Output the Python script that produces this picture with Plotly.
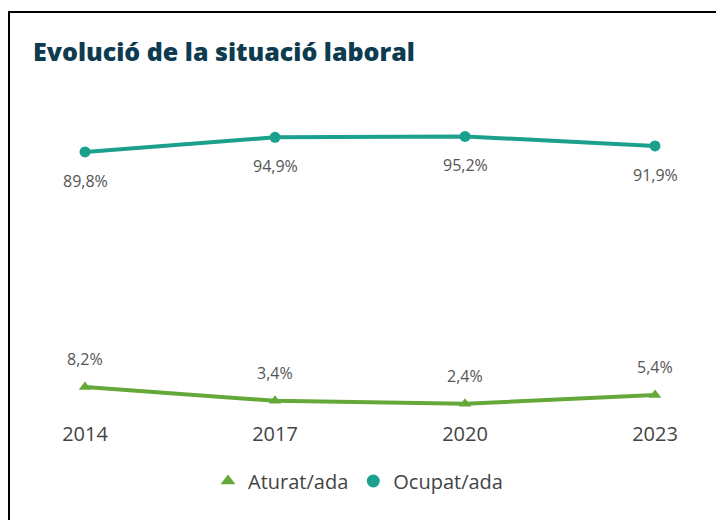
import plotly.graph_objects as go

years = [2014, 2017, 2020, 2023]
year_labels = ["2014", "2017", "2020", "2023"]
ocupat = [89.8, 94.9, 95.2, 91.9]
aturat = [8.2, 3.4, 2.4, 5.4]
ocupat_labels = ["89,8%", "94,9%", "95,2%", "91,9%"]
aturat_labels = ["8,2%", "3,4%", "2,4%", "5,4%"]

TEAL = "#1ca08e"
GREEN = "#64a83a"
FONT = "Open Sans"

fig = go.Figure()
fig.add_trace(go.Scatter(x=years, y=ocupat, mode="lines+markers",
                         line=dict(color=TEAL, width=4),
                         marker=dict(symbol="circle", size=11, color=TEAL),
                         showlegend=False, hoverinfo="skip"))
fig.add_trace(go.Scatter(x=years, y=aturat, mode="lines+markers",
                         line=dict(color=GREEN, width=4),
                         marker=dict(symbol="triangle-up", size=11, color=GREEN),
                         showlegend=False, hoverinfo="skip"))
# legend-only entries
fig.add_trace(go.Scatter(x=[None], y=[None], mode="markers", name="Aturat/ada",
                         marker=dict(symbol="triangle-up", size=13, color=GREEN)))
fig.add_trace(go.Scatter(x=[None], y=[None], mode="markers", name="Ocupat/ada",
                         marker=dict(symbol="circle", size=13, color=TEAL)))

ann = []
for x, y, t in zip(years, ocupat, ocupat_labels):
    ann.append(dict(x=x, y=y, text=t, showarrow=False, yshift=-29,
                    font=dict(family=FONT, size=16, color="#555555")))
for x, y, t in zip(years, aturat, aturat_labels):
    ann.append(dict(x=x, y=y, text=t, showarrow=False, yshift=28,
                    font=dict(family=FONT, size=16, color="#555555")))

fig.update_layout(
    width=716, height=521,
    paper_bgcolor="white", plot_bgcolor="white",
    margin=dict(l=40, r=20, t=100, b=101),
    title=dict(text="Evolució de la situació laboral",
               x=33/716, xanchor="left", xref="container",
               y=1-52/521, yanchor="middle", yref="container",
               font=dict(family=FONT, size=25, color="#0d3b4f", weight=800)),
    xaxis=dict(range=[2013.289, 2023.647], tickvals=years, ticktext=year_labels,
               showgrid=False, zeroline=False, showline=False,
               tickfont=dict(family=FONT, size=20, color="#444444")),
    yaxis=dict(range=[-3.26, 107.85], visible=False, showgrid=False, zeroline=False),
    legend=dict(orientation="h", x=0.5, xanchor="center", xref="container",
                y=1-481/521, yanchor="middle", yref="container",
                font=dict(family=FONT, size=20, color="#444444"),
                itemwidth=30, tracegroupgap=0),
    annotations=ann,
    shapes=[
        dict(type="line", xref="paper", yref="paper",
             x0=(8-40)/656, x1=(716-40)/656, y0=(421-13)/320, y1=(421-13)/320,
             line=dict(color="black", width=2)),
        dict(type="line", xref="paper", yref="paper",
             x0=(9-40)/656, x1=(9-40)/656, y0=(421-13)/320, y1=(421-521)/320,
             line=dict(color="black", width=2)),
    ],
)
fig.write_html("out.html", config={"displayModeBar": False},
               post_script="document.body.style.margin='0';document.body.style.padding='0';")
